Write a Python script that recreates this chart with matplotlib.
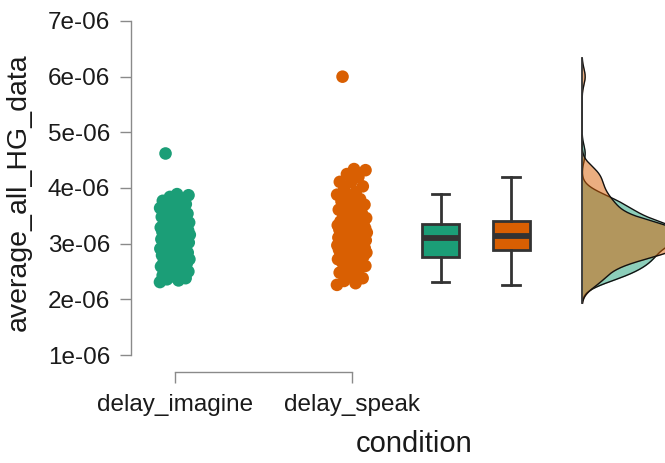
import numpy as np
import matplotlib
matplotlib.use('Agg')
import matplotlib.pyplot as plt

# ---------------- data (values in units of 1e-06) ----------------
categories = ['delay_imagine', 'delay_speak']
imagine_vals = [
    2.31, 2.34, 2.36, 2.38, 2.41, 2.43, 2.45, 2.47, 2.50, 2.52, 2.54, 2.55, 2.57,
    2.59, 2.61, 2.62, 2.64, 2.66, 2.67, 2.69, 2.70, 2.72, 2.73, 2.75, 2.76,
    2.77, 2.79, 2.80, 2.82, 2.84, 2.85, 2.87, 2.88, 2.90, 2.91, 2.93, 2.94, 2.96,
    2.97, 2.98, 3.00, 3.01, 3.02, 3.03, 3.05, 3.06, 3.07, 3.08, 3.09, 3.10,
    3.11, 3.12, 3.13, 3.14, 3.15, 3.16, 3.17, 3.18, 3.19, 3.20, 3.21, 3.22, 3.23,
    3.24, 3.25, 3.26, 3.27, 3.28, 3.29, 3.30, 3.31, 3.32, 3.33, 3.34, 3.35,
    3.36, 3.38, 3.40, 3.42, 3.44, 3.46, 3.48, 3.50, 3.52, 3.54, 3.56, 3.58, 3.60,
    3.62, 3.64, 3.66, 3.68, 3.71, 3.74, 3.77, 3.80, 3.84, 3.87, 3.89, 4.62,
]
speak_vals = [
    2.26, 2.29, 2.33, 2.38, 2.43, 2.48, 2.52, 2.56, 2.60, 2.63, 2.66, 2.68, 2.70,
    2.72, 2.74, 2.76, 2.78, 2.79, 2.80, 2.82, 2.83, 2.84, 2.85, 2.86, 2.87,
    2.88, 2.89, 2.90, 2.91, 2.92, 2.93, 2.94, 2.95, 2.96, 2.97, 2.98, 2.99, 3.00,
    3.01, 3.03, 3.04, 3.05, 3.06, 3.07, 3.08, 3.09, 3.10, 3.11, 3.12, 3.14,
    3.15, 3.16, 3.17, 3.18, 3.19, 3.20, 3.21, 3.22, 3.23, 3.24, 3.25, 3.26, 3.27,
    3.28, 3.29, 3.30, 3.31, 3.32, 3.33, 3.34, 3.35, 3.37, 3.38, 3.40, 3.41,
    3.43, 3.46, 3.49, 3.52, 3.55, 3.58, 3.61, 3.64, 3.67, 3.70, 3.73, 3.76, 3.80,
    3.84, 3.88, 3.93, 3.98, 4.03, 4.11, 4.11, 4.20, 4.25, 4.32, 4.34, 6.00,
]
y_ticks = [1, 2, 3, 4, 5, 6, 7]
y_tick_labels = ['1e-06', '2e-06', '3e-06', '4e-06', '5e-06', '6e-06', '7e-06']
x_label = 'condition'
y_label = 'average_all_HG_data'

# ---------------- style ----------------
colors = ['#1B9E77', '#D95F02']
edge = '#333333'
spine_col = '#8a8a8a'
SCALE = 1e-6

plt.rcParams['font.family'] = ['Liberation Sans', 'DejaVu Sans']

W, H = 665, 463
fig = plt.figure(figsize=(W / 100, H / 100), dpi=100)
ax = fig.add_axes([131 / W, (H - 372) / H, (W - 131) / W, 372 / H])

groups = [np.array(imagine_vals) * SCALE, np.array(speak_vals) * SCALE]

# strip (jittered points), deterministic jitter pattern
for gi, vals in enumerate(groups):
    n = len(vals)
    jit = (((np.arange(n) * 0.6180339887) % 1.0) - 0.5) * 2 * 0.085
    ax.scatter(gi + jit, vals, s=82, color=colors[gi], edgecolors='none', zorder=3)

# boxplots
box_pos = [1.50, 1.90]
bp = ax.boxplot(groups, positions=box_pos, widths=0.21, showfliers=False,
                patch_artist=True, whis=1.5, capwidths=0.1,
                medianprops=dict(color=edge, linewidth=4.2, solid_capstyle='butt'),
                boxprops=dict(edgecolor=edge, linewidth=2.0),
                whiskerprops=dict(color=edge, linewidth=2.0),
                capprops=dict(color=edge, linewidth=2.0),
                manage_ticks=False)
for patch, c in zip(bp['boxes'], colors):
    patch.set_facecolor(c)

# half densities (rotated)
base = 2.30
bw = 0.145 * SCALE
cut = 0.33 * SCALE
dens = []
grids = []
for vals in groups:
    g = np.linspace(vals.min() - cut, vals.max() + cut, 400)
    d = np.exp(-0.5 * ((g[:, None] - vals[None, :]) / bw) ** 2).sum(1) / (len(vals) * bw * np.sqrt(2 * np.pi))
    grids.append(g)
    dens.append(d)
dmax = max(d.max() for d in dens)
for gi in range(2):
    w = dens[gi] / dmax * 0.58
    ax.fill_betweenx(grids[gi], base, base + w, color=colors[gi], alpha=0.5, linewidth=0, zorder=2)
    ax.plot(base + w, grids[gi], color='#111111', linewidth=1.0, zorder=2)
gmin = min(g.min() for g in grids)
gmax = max(g.max() for g in grids)
ax.plot([base, base], [gmin, gmax], color='#333333', linewidth=1.3, zorder=2)

# axes
ax.set_xlim(-44 / 177, (W - 175) / 177)
ax.set_ylim((1 - 17 / 55.67) * SCALE, (7 + 21 / 55.67) * SCALE)
ax.set_yticks([t * SCALE for t in y_ticks], y_tick_labels)
ax.set_xticks([0, 1], categories)
for s in ['top', 'right']:
    ax.spines[s].set_visible(False)
ax.spines['left'].set_bounds(1 * SCALE, 7 * SCALE)
ax.spines['bottom'].set_bounds(0, 1)
for s in ['left', 'bottom']:
    ax.spines[s].set_color(spine_col)
    ax.spines[s].set_linewidth(1.0)
ax.tick_params(axis='both', length=8, width=1.0, color=spine_col, labelsize=17.5,
               labelcolor='#1a1a1a')
ax.tick_params(axis='y', pad=7)
ax.tick_params(axis='x', pad=8)
ax.patch.set_visible(False)

ax.set_xlabel(x_label, fontsize=21, color='#1a1a1a')
ax.xaxis.set_label_coords((414 - 131) / 534, -0.155)
ax.set_ylabel(y_label, fontsize=20.5, color='#1a1a1a')
ax.yaxis.set_label_coords(-0.185, 0.484)

fig.savefig('out.png', dpi=100)
